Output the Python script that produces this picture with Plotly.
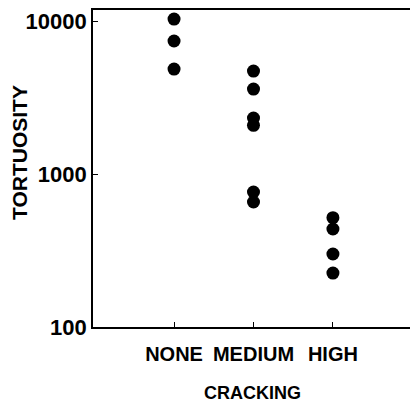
import plotly.graph_objects as go

categories = ["NONE", "MEDIUM", "HIGH"]
none_vals = [10300, 7400, 4850]
medium_vals = [4710, 3590, 2320, 2080, 763, 656]
high_vals = [518, 437, 300, 225]
y_ticks = [100, 1000, 10000]
y_ticklabels = ["100", "1000", "10000"]

xs = [1] * len(none_vals) + [2] * len(medium_vals) + [3] * len(high_vals)
ys = none_vals + medium_vals + high_vals

font_family = "Liberation Sans, Arial, sans-serif"

fig = go.Figure()
fig.add_trace(go.Scatter(
    x=xs, y=ys, mode="markers",
    marker=dict(size=13, color="black", line=dict(width=0)),
    showlegend=False, hoverinfo="skip",
))

fig.update_layout(
    width=410, height=402,
    margin=dict(l=93, r=0, t=10, b=75),
    paper_bgcolor="white", plot_bgcolor="white",
    font=dict(family=font_family, color="black", size=19, weight="bold"),
    xaxis=dict(
        range=[-0.02, 3.97],
        tickvals=[1, 2, 3], ticktext=categories,
        ticks="inside", ticklen=5, tickwidth=1.2, tickcolor="black",
        showline=True, linecolor="black", linewidth=1.6, mirror=True,
        showgrid=False, zeroline=False,
        tickfont=dict(size=20, family=font_family, weight="bold"),
        ticklabelstandoff=8,
    ),
    yaxis=dict(
        type="log", range=[2, 4.072],
        tickvals=y_ticks, ticktext=y_ticklabels,
        ticks="inside", ticklen=5, tickwidth=1.2, tickcolor="black",
        showline=True, linecolor="black", linewidth=1.6, mirror=False,
        showgrid=False, zeroline=False,
        tickfont=dict(size=22, family=font_family, weight="bold"),
    ),
    annotations=[
        dict(text="TORTUOSITY", xref="paper", yref="paper", x=-0.230, y=0.549,
             textangle=-90, showarrow=False, xanchor="center", yanchor="middle",
             font=dict(size=21, family=font_family, weight="bold")),
        dict(text="CRACKING", xref="paper", yref="paper", x=0.502, y=-0.208,
             showarrow=False, xanchor="center", yanchor="middle",
             font=dict(size=18, family=font_family, weight="bold")),
    ],
)

fig.write_html("out.html")
